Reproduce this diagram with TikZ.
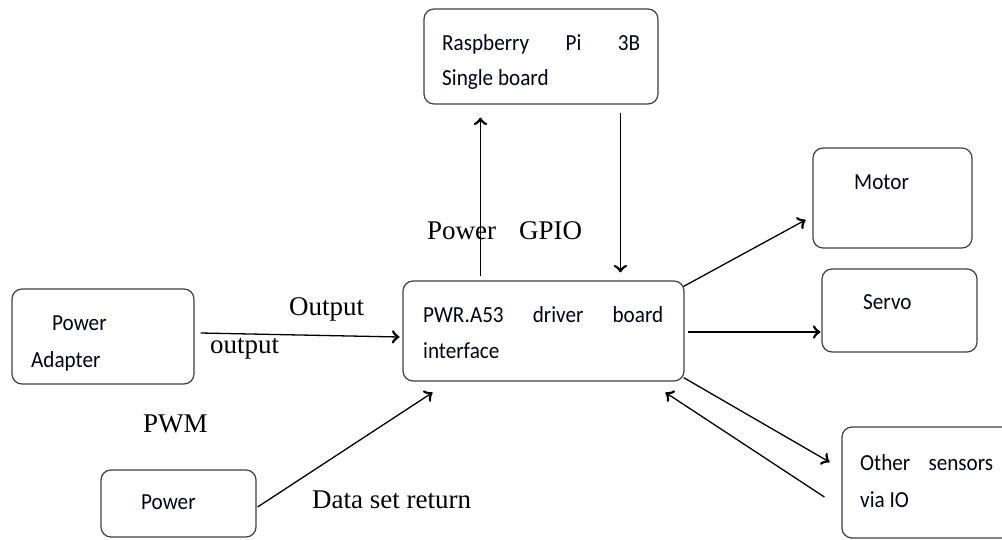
\documentclass[tikz,border=0pt]{standalone}
\usepackage{fontspec}
\setmainfont{Liberation Serif}
\newfontfamily\boxfont[FakeStretch=0.92]{Carlito}
\usepackage{tikz}
\usetikzlibrary{calc}
\usetikzlibrary{decorations.markings}
\tikzset{flow/.style = {line width=1.3pt,
                        decoration={markings,
                                    mark=at position 1 with {\arrow[scale=2.1]{to}}},
                        postaction={decorate}}}
\tikzset{blk/.style = {draw=black!75, line width=1.2pt, rounded corners=10pt, inner sep=0pt}}
\tikzset{btxt/.style = {anchor=base west, inner sep=0pt, text=black!90!blue,
                        font=\boxfont\fontsize{23}{27}\selectfont}}
\tikzset{lbl/.style = {anchor=base west, inner sep=0pt, font=\fontsize{27}{32}\selectfont}}

\begin{document}
\begin{tikzpicture}[x=1pt, y=-1pt]
      \useasboundingbox (0, 0) rectangle (1002, 539);

      % blocks
      \node [blk, minimum width=234pt, minimum height=95pt] (rpi) at (541, 56.5) {};
      \node [blk, minimum width=281pt, minimum height=100pt] (drv) at (543.5, 331) {};
      \node [blk, minimum width=182pt, minimum height=95pt] (adp) at (103, 336.5) {};
      \node [blk, minimum width=155pt, minimum height=67pt] (pwr) at (178.5, 503.5) {};
      \node [blk, minimum width=159pt, minimum height=100pt] (mot) at (892.5, 198) {};
      \node [blk, minimum width=155pt, minimum height=83pt] (srv) at (899.5, 310.5) {};
      \node [blk, minimum width=170pt, minimum height=111pt] (oth) at (927, 482.5) {};

      % block texts
      \node [btxt] (rpiA) at (442, 50) {\makebox[198pt][s]{Raspberry\hfill Pi\hfill 3B}};
      \node [btxt] (rpiB) at (442, 85) {Single board};
      \node [btxt] (drvA) at (423, 322) {\makebox[240pt][s]{PWR.A53\hfill driver\hfill board}};
      \node [btxt] (drvB) at (423, 358) {interface};
      \node [btxt] (motA) at (854, 189) {Motor};
      \node [btxt] (srvA) at (863, 309) {Servo};
      \node [btxt] (adpA) at (52, 330) {Power};
      \node [btxt] (adpB) at (31, 367) {Adapter};
      \node [btxt] (pwrA) at (141, 509) {Power};
      \node [btxt] (othA) at (860, 470) {\makebox[133pt][s]{Other\hfill sensors}};
      \node [btxt] (othB) at (860, 507) {via IO};

      % labels
      \node [lbl] (lpow) at (427, 239) {Power};
      \node [lbl] (lgpio) at (519, 239) {GPIO};
      \node [lbl] (lout) at (289, 315) {Output};
      \node [lbl] (lout2) at (210, 353) {output};
      \node [lbl] (lpwm) at (143, 432) {PWM};
      \node [lbl] (ldata) at (312, 508) {Data set return};

      % connectors
      \draw [flow] ($(drv.north west)+(78,-4)$) -- ($(rpi.south west)+(57,13)$);
      \draw [flow] ($(rpi.south west)+(197,8)$) -- ($(drv.north west)+(218,-8)$);
      \draw [flow] ($(adp.east)+(6,-3.5)$) -- ($(drv.west)+(-3,6)$);
      \draw [flow] ($(pwr.east)+(1,3.5)$) -- ($(drv.south west)+(30,11)$);
      \draw [flow] ($(drv.north east)+(-1,6)$) -- ($(mot.west)+(-7,22)$);
      \draw [flow] ($(drv.east)+(3,1)$) -- ($(srv.west)+(-1,21.5)$);
      \draw [flow] ($(drv.south east)+(-1,-4)$) -- ($(oth.west)+(-12,-20.5)$);
      \draw [flow] ($(oth.west)+(-17,14.5)$) -- ($(drv.south east)+(-19,11)$);
    \end{tikzpicture}
\end{document}
